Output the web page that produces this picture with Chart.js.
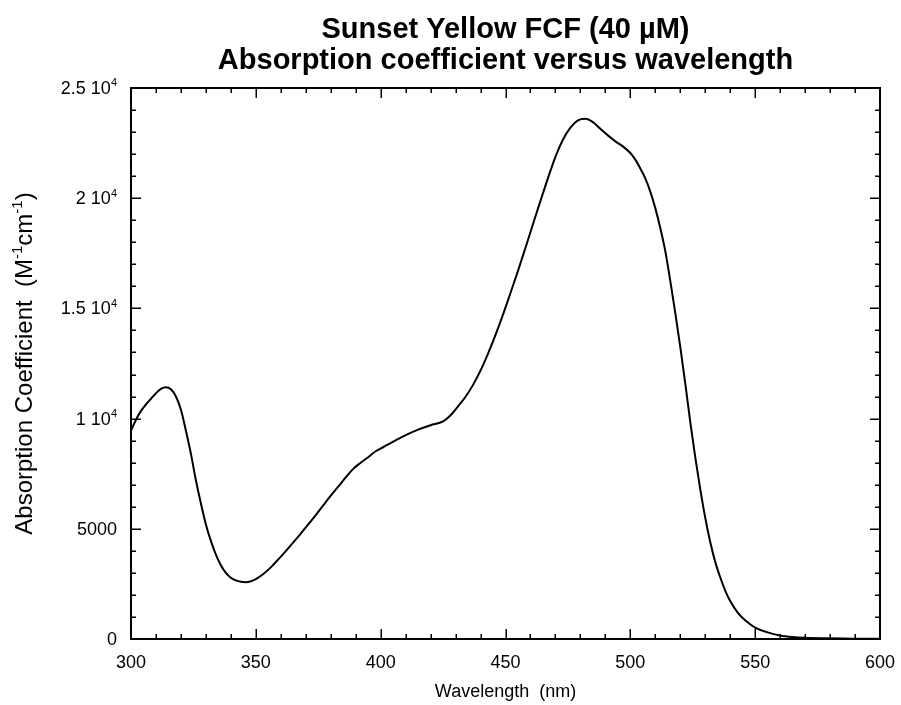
<!DOCTYPE html>
<html>
<head>
<meta charset="utf-8">
<script src="https://cdn.jsdelivr.net/npm/chart.js@4/dist/chart.umd.min.js"></script>
<style>
html, body { margin: 0; padding: 0; background: #fff; }
</style>
</head>
<body>
<canvas id="chart" width="901" height="705"></canvas>
<script>
// wavelength (nm)
const wavelengths = [
    300, 302, 304, 306, 308, 310, 312, 314, 316, 318, 320,
    322, 324, 326, 328, 330, 332, 334, 336, 338, 340,
    342, 344, 346, 348, 350, 353, 356, 359, 362, 365,
    368, 371, 374, 377, 380, 383, 386, 389, 392, 395,
    398, 401, 405, 410, 415, 420, 425, 428, 431, 434,
    437, 440, 443, 446, 449, 452, 455, 458, 461, 464,
    467, 470, 473, 476, 479, 482, 485, 488, 491, 494,
    497, 500, 502, 504, 506, 508, 510, 512, 514, 516,
    518, 520, 522, 524, 526, 528, 530, 532, 534, 536,
    538, 540, 543, 546, 550, 555, 560, 565, 570, 580,
    590, 600
];
// absorption coefficient (M-1 cm-1)
const absorption = [
    9450, 9950, 10350, 10650, 10900, 11150, 11350, 11420, 11330, 11000, 10400,
    9450, 8400, 7200, 6150, 5200, 4450, 3830, 3350, 3000, 2780,
    2660, 2600, 2580, 2620, 2720, 2950, 3250, 3610, 3990, 4380,
    4780, 5200, 5620, 6060, 6500, 6910, 7330, 7720, 8000, 8250,
    8520, 8700, 8950, 9250, 9500, 9700, 9870, 10150, 10560, 10990,
    11530, 12180, 12950, 13800, 14720, 15700, 16700, 17750, 18820, 19880,
    20910, 21880, 22650, 23200, 23530, 23600, 23450, 23150, 22850, 22580,
    22350, 22050, 21750, 21350, 20900, 20300, 19550, 18650, 17600, 16250,
    14800, 13250, 11600, 9850, 8250, 6800, 5500, 4400, 3500, 2800,
    2200, 1720, 1200, 850, 520, 300, 160, 90, 55, 30,
    15, 10
];

const xTicks = [300, 350, 400, 450, 500, 550, 600];
const yTicks = [0, 5000, 10000, 15000, 20000, 25000];
const yTickLabels = [
    ["0", ""], ["5000", ""], ["1 10", "4"],
    ["1.5 10", "4"], ["2 10", "4"], ["2.5 10", "4"]
];

const FONT = '"Liberation Sans", Arial, sans-serif';

// draws a run of text pieces, some of them as superscripts
function drawParts(ctx, parts, x, y, size, align) {
    const supSize = Math.round(size * 0.62);
    let total = 0;
    const widths = parts.map(p => {
        ctx.font = (p[1] ? supSize : size) + "px " + FONT;
        const w = ctx.measureText(p[0]).width;
        total += w;
        return w;
    });
    let cx = align === "right" ? x - total : align === "center" ? x - total / 2 : x;
    ctx.textAlign = "left";
    parts.forEach((p, i) => {
        ctx.font = (p[1] ? supSize : size) + "px " + FONT;
        ctx.fillText(p[0], cx, p[1] ? y - size * 0.42 : y);
        cx += widths[i];
    });
}

const framePlugin = {
    id: "frame",
    afterDraw(chart) {
        const ctx = chart.ctx;
        const a = chart.chartArea;
        const xs = chart.scales.x;
        const ys = chart.scales.y;
        ctx.save();
        ctx.strokeStyle = "#000";
        ctx.fillStyle = "#000";
        ctx.lineWidth = 2;
        ctx.strokeRect(a.left, a.top, a.right - a.left, a.bottom - a.top);

        // inward ticks on all four sides
        ctx.lineWidth = 1.5;
        ctx.beginPath();
        for (let v = 300; v <= 600; v += 10) {
            const px = Math.round(xs.getPixelForValue(v)) + 0.25;
            const len = v % 50 === 0 ? 10 : 5;
            ctx.moveTo(px, a.bottom); ctx.lineTo(px, a.bottom - len);
            ctx.moveTo(px, a.top); ctx.lineTo(px, a.top + len);
        }
        for (let v = 0; v <= 25000; v += 1000) {
            const py = Math.round(ys.getPixelForValue(v)) + 0.25;
            const len = v % 5000 === 0 ? 10 : 5;
            ctx.moveTo(a.left, py); ctx.lineTo(a.left + len, py);
            ctx.moveTo(a.right, py); ctx.lineTo(a.right - len, py);
        }
        ctx.stroke();

        // y tick labels
        ctx.textBaseline = "alphabetic";
        yTicks.forEach((v, i) => {
            const py = ys.getPixelForValue(v);
            const lab = yTickLabels[i];
            const parts = [[lab[0], false]];
            if (lab[1]) parts.push([lab[1], true]);
            drawParts(ctx, parts, 117, py + 6, 18, "right");
        });

        // y axis title
        ctx.save();
        ctx.translate(24, (a.top + a.bottom) / 2);
        ctx.rotate(-Math.PI / 2);
        drawParts(ctx, [
            ["Absorption Coefficient  (M", false], ["-1", true],
            ["cm", false], ["-1", true], [")", false]
        ], 0, 8, 24, "center");
        ctx.restore();

        // x axis title
        drawParts(ctx, [["Wavelength  (nm)", false]], (a.left + a.right) / 2, 697, 18, "center");

        // chart title
        ctx.font = "bold 29px " + FONT;
        ctx.textAlign = "center";
        const cx = (a.left + a.right) / 2;
        ctx.fillText("Sunset Yellow FCF (40 \u00b5M)", cx, 38);
        ctx.fillText("Absorption coefficient versus wavelength", cx, 69);
        ctx.restore();
    }
};

new Chart(document.getElementById("chart"), {
    type: "line",
    data: {
        datasets: [{
            data: wavelengths.map((w, i) => ({ x: w, y: absorption[i] })),
            borderColor: "#000",
            borderWidth: 2,
            pointRadius: 0,
            cubicInterpolationMode: "monotone",
            fill: false
        }]
    },
    options: {
        responsive: false,
        animation: false,
        devicePixelRatio: 1,
        layout: { padding: { top: 88, right: 21, left: 0, bottom: 0 } },
        plugins: {
            legend: { display: false },
            tooltip: { enabled: false },
            title: { display: false }
        },
        scales: {
            x: {
                type: "linear",
                min: 300,
                max: 600,
                afterBuildTicks: s => { s.ticks = xTicks.map(v => ({ value: v })); },
                afterFit: s => { s.height = 66; s.paddingLeft = 0; s.paddingRight = 0; },
                grid: { display: false, drawTicks: false },
                border: { display: false },
                ticks: {
                    padding: 13,
                    color: "#000",
                    font: { family: FONT, size: 18 },
                    maxRotation: 0
                }
            },
            y: {
                min: 0,
                max: 25000,
                afterBuildTicks: s => { s.ticks = yTicks.map(v => ({ value: v })); },
                afterFit: s => { s.width = 131; },
                grid: { display: false, drawTicks: false },
                border: { display: false },
                ticks: { display: false }
            }
        }
    },
    plugins: [framePlugin]
});
</script>
</body>
</html>
